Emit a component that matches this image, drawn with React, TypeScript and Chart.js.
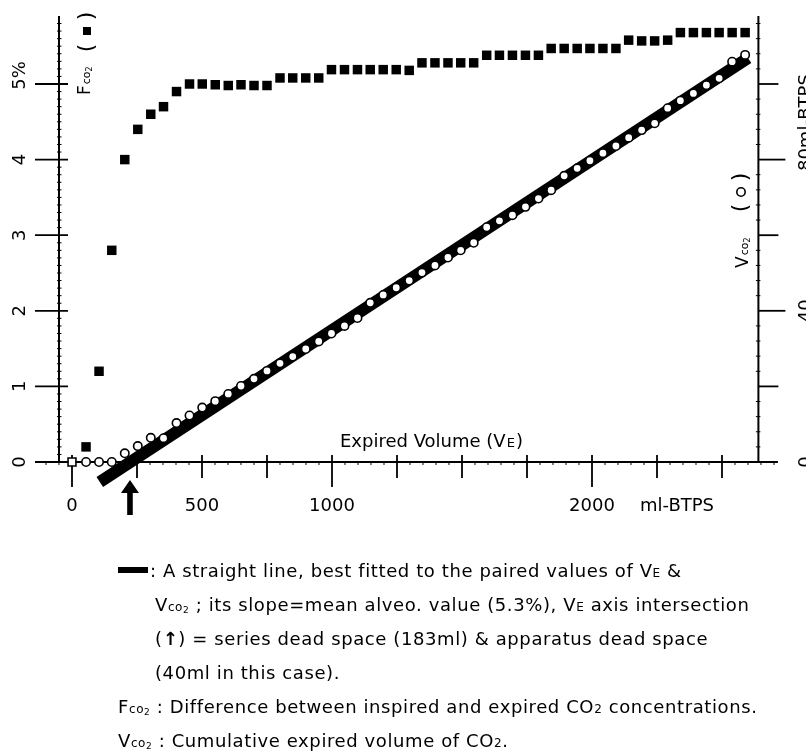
import React, { useEffect, useRef } from "react";
import { Chart, registerables } from "chart.js";

Chart.register(...registerables);

// ---------- data ----------
// Expired volume VE (ml-BTPS) at each sample
const expiredVolume = [
  54, 104, 153, 203, 253, 303, 352, 402, 452, 501, 551, 601, 650, 700, 750, 800,
  849, 899, 949, 998, 1048, 1098, 1147, 1197, 1247, 1297, 1346, 1396, 1446, 1495,
  1545, 1595, 1644, 1694, 1744, 1794, 1843, 1893, 1943, 1992, 2042, 2092, 2141,
  2191, 2241, 2291, 2340, 2390, 2440, 2489, 2539, 2589,
];
// FCO2 (%) - filled squares, left axis
const fco2 = [
  0.2, 1.2, 2.8, 4.0, 4.4, 4.6, 4.7, 4.9, 5.0, 5.0, 4.99, 4.98, 4.99, 4.98, 4.98,
  5.08, 5.08, 5.08, 5.08, 5.19, 5.19, 5.19, 5.19, 5.19, 5.19, 5.18, 5.28, 5.28,
  5.28, 5.28, 5.28, 5.38, 5.38, 5.38, 5.38, 5.38, 5.47, 5.47, 5.47, 5.47, 5.47,
  5.47, 5.58, 5.57, 5.57, 5.58, 5.68, 5.68, 5.68, 5.68, 5.68, 5.68,
];
// VCO2 (ml) - open circles, right axis
const vco2 = [
  0, 0, 0, 2.3, 4.2, 6.4, 6.3, 10.3, 12.3, 14.4, 16.1, 18.0, 20.1, 22.0, 24.1,
  26.1, 27.9, 29.9, 31.9, 34.0, 36.0, 38.1, 42.1, 44.2, 46.1, 48.0, 50.1, 52.0,
  54.1, 56.0, 58.0, 62.1, 63.8, 65.3, 67.5, 69.7, 71.9, 75.7, 77.7, 79.7, 81.7,
  83.6, 85.8, 87.8, 89.6, 93.6, 95.6, 97.5, 99.7, 101.5, 105.9, 107.7,
];
// starting point (open square)
const startVolume = [0];
const startFco2 = [0];
// best-fit straight line
const fitVolume = [107, 2600];
const fitVco2 = [-5.3, 106.9];
// VE axis intersection (series + apparatus dead space)
const interceptVolume = 223;

// tick labels
const xTickValues = [0, 500, 1000, 2000];
const xTickLabels = ["0", "500", "1000", "2000"];
const xMajorTicks = [0, 250, 500, 750, 1000, 1250, 1500, 1750, 2000, 2250, 2500];
const xLongTicks = [0, 1000, 2000];
const leftTickValues = [0, 1, 2, 3, 4, 5];
const leftTickLabels = ["0", "1", "2", "3", "4", "5%"];
const rightTickValues = [20, 40, 60, 80, 100];
const rightLabelValues = [0, 40, 80];
const rightLabelTexts = ["0", "40", "80ml-BTPS"];

// ---------- layout / calibration ----------
const FONT = '"DejaVu Sans", "Liberation Sans", sans-serif';
const INK = "#000";
const X_MIN = -276.92;
const X_MAX = 2823.08;
const YL_MIN = -3.836;
const YL_MAX = 6.1111;
const YR_FACTOR = 20;
const LEFT_AXIS_AT = -50;
const RIGHT_AXIS_AT = 2640;
const AXIS_TOP = 5.9;
const X_AXIS_FROM = -142;
const X_AXIS_TO = 2715;

function seg(ctx: CanvasRenderingContext2D, x1: number, y1: number, x2: number, y2: number) {
  ctx.beginPath();
  ctx.moveTo(x1, y1);
  ctx.lineTo(x2, y2);
  ctx.stroke();
}

const paperPlugin = {
  id: "paperAxes",
  beforeDatasetsDraw(chart: any) {
    const ctx: CanvasRenderingContext2D = chart.ctx;
    const sx = chart.scales.x;
    const sl = chart.scales.yL;
    const sr = chart.scales.yR;
    const y0 = sl.getPixelForValue(0);
    const xl = sx.getPixelForValue(LEFT_AXIS_AT);
    const xr = sx.getPixelForValue(RIGHT_AXIS_AT);
    const top = sl.getPixelForValue(AXIS_TOP);
    ctx.save();
    ctx.strokeStyle = INK;
    ctx.lineCap = "butt";
    ctx.lineWidth = 2;
    seg(ctx, sx.getPixelForValue(X_AXIS_FROM), y0, sx.getPixelForValue(X_AXIS_TO), y0);
    seg(ctx, xl, y0 + 1, xl, top);
    seg(ctx, xr, y0 + 1, xr, top);

    // x ticks
    ctx.lineWidth = 1.8;
    for (const v of xMajorTicks) {
      const px = sx.getPixelForValue(v);
      const long = xLongTicks.includes(v);
      seg(ctx, px, y0 - 7, px, y0 + (long ? 25 : 16));
    }
    ctx.lineWidth = 1;
    for (let v = -100; v <= 2700; v += 50) {
      if (v % 250 === 0) continue;
      const px = sx.getPixelForValue(v);
      seg(ctx, px, y0, px, y0 + 3);
    }
    // left ticks
    ctx.lineWidth = 1.8;
    for (const v of leftTickValues) {
      const py = sl.getPixelForValue(v);
      seg(ctx, xl - 24, py, xl + 9, py);
    }
    ctx.lineWidth = 1;
    for (let i = 1; i < 59; i++) {
      if (i % 10 === 0) continue;
      const py = sl.getPixelForValue(i / 10);
      seg(ctx, xl - 2, py, xl + 2.5, py);
    }
    // right ticks
    ctx.lineWidth = 1.8;
    for (const v of rightTickValues) {
      const py = sr.getPixelForValue(v);
      seg(ctx, xr, py, xr + (v === 40 || v === 80 ? 27 : 20), py);
    }
    ctx.lineWidth = 1;
    for (let v = 4; v < 118; v += 4) {
      if (v % 20 === 0) continue;
      const py = sr.getPixelForValue(v);
      seg(ctx, xr - 2.5, py, xr + 2, py);
    }
    ctx.restore();
  },
  afterDatasetsDraw(chart: any) {
    const ctx: CanvasRenderingContext2D = chart.ctx;
    const sx = chart.scales.x;
    const sl = chart.scales.yL;
    const sr = chart.scales.yR;
    const y0 = sl.getPixelForValue(0);
    ctx.save();
    ctx.fillStyle = INK;
    ctx.strokeStyle = INK;

    // x tick labels
    ctx.font = `18px ${FONT}`;
    ctx.textAlign = "center";
    ctx.textBaseline = "middle";
    xTickValues.forEach((v, i) => ctx.fillText(xTickLabels[i], sx.getPixelForValue(v), y0 + 44));
    ctx.textAlign = "left";
    ctx.fillText("ml-BTPS", sx.getPixelForValue(2000) + 48, y0 + 44);

    // rotated y labels
    const rotLabel = (cx: number, py: number, label: string, num: string) => {
      const w = ctx.measureText(num).width;
      ctx.save();
      ctx.translate(cx, py + w / 2);
      ctx.rotate(-Math.PI / 2);
      ctx.textAlign = "left";
      ctx.textBaseline = "middle";
      ctx.fillText(label, 0, 0);
      ctx.restore();
    };
    leftTickValues.forEach((v, i) => rotLabel(20, sl.getPixelForValue(v), leftTickLabels[i], String(v)));
    rightLabelValues.forEach((v, i) => rotLabel(806, sr.getPixelForValue(v), rightLabelTexts[i], String(v)));

    // x axis title
    ctx.textAlign = "left";
    ctx.textBaseline = "alphabetic";
    let cur = 340;
    const ty = y0 - 15;
    ctx.font = `18px ${FONT}`;
    ctx.fillText("Expired Volume (V", cur, ty);
    cur += ctx.measureText("Expired Volume (V").width;
    ctx.font = `13px ${FONT}`;
    ctx.fillText("E", cur + 1, ty);
    cur += ctx.measureText("E").width + 2;
    ctx.font = `18px ${FONT}`;
    ctx.fillText(")", cur, ty);

    // vertical titles
    const vTitle = (cx: number, startY: number, letter: string, symbol: "square" | "circle", p1: number, sym: number, p2: number, off: number) => {
      ctx.save();
      ctx.translate(cx, startY);
      ctx.rotate(-Math.PI / 2);
      ctx.textAlign = "left";
      ctx.textBaseline = "alphabetic";
      let c = 0;
      ctx.font = `17px ${FONT}`;
      ctx.fillText(letter, c, 6);
      c += ctx.measureText(letter).width + 1;
      ctx.font = `11px ${FONT}`;
      ctx.fillText("co", c, 6);
      c += ctx.measureText("co").width;
      ctx.font = `8px ${FONT}`;
      ctx.fillText("2", c, 8);
      ctx.font = `22px ${FONT}`;
      ctx.textAlign = "center";
      ctx.textBaseline = "middle";
      ctx.fillText("(", p1, off);
      ctx.fillText(")", p2, off);
      if (symbol === "square") {
        ctx.fillRect(sym - 4, off - 4, 8, 8);
      } else {
        ctx.lineWidth = 1.6;
        ctx.beginPath();
        ctx.arc(sym, off, 4.2, 0, Math.PI * 2);
        ctx.stroke();
      }
      ctx.restore();
    };
    vTitle(84, 95, "F", "square", 47, 64, 79, 3);
    vTitle(742, 268, "V", "circle", 60, 76, 91, -1);

    // arrow at the VE intersection
    const ax = sx.getPixelForValue(interceptVolume);
    ctx.beginPath();
    ctx.moveTo(ax, y0 + 18);
    ctx.lineTo(ax + 9, y0 + 31);
    ctx.lineTo(ax + 2.8, y0 + 31);
    ctx.lineTo(ax + 2.8, y0 + 53);
    ctx.lineTo(ax - 2.8, y0 + 53);
    ctx.lineTo(ax - 2.8, y0 + 31);
    ctx.lineTo(ax - 9, y0 + 31);
    ctx.closePath();
    ctx.fill();
    ctx.restore();
  },
};

const small = { fontSize: 12 } as const;
const sub2 = { fontSize: 9, verticalAlign: "-2px" } as const;
const Vco2 = () => (
  <span>V<span style={small}>co</span><span style={sub2}>2</span></span>
);
const Fco2 = () => (
  <span>F<span style={small}>co</span><span style={sub2}>2</span></span>
);
const VE = () => (
  <span>V<span style={small}>E</span></span>
);

const noteLine = (left: number, center: number): React.CSSProperties => ({
  position: "absolute",
  left,
  top: center - 11,
  fontSize: 18,
  lineHeight: "22px",
  letterSpacing: "0.6px",
  whiteSpace: "nowrap",
  color: INK,
  fontFamily: FONT,
});

export default function App() {
  const canvasRef = useRef<HTMLCanvasElement>(null);

  useEffect(() => {
    const canvas = canvasRef.current;
    if (!canvas) return;
    const chart = new Chart(canvas, {
      type: "scatter",
      data: {
        datasets: [
          {
            label: "VCO2",
            data: expiredVolume.map((x, i) => ({ x, y: vco2[i] })),
            yAxisID: "yR",
            pointStyle: "circle",
            pointRadius: 4.2,
            pointBackgroundColor: "#fff",
            pointBorderColor: INK,
            pointBorderWidth: 1.6,
            order: 0,
          },
          {
            label: "FCO2",
            data: expiredVolume.map((x, i) => ({ x, y: fco2[i] })),
            yAxisID: "yL",
            pointStyle: "rect",
            pointRadius: 6.7,
            pointBackgroundColor: INK,
            pointBorderWidth: 0,
            order: 1,
          },
          {
            label: "start",
            data: startVolume.map((x, i) => ({ x, y: startFco2[i] })),
            yAxisID: "yL",
            pointStyle: "rect",
            pointRadius: 5.6,
            pointBackgroundColor: "#fff",
            pointBorderColor: INK,
            pointBorderWidth: 1.6,
            order: 1,
          },
          {
            label: "fit",
            data: fitVolume.map((x, i) => ({ x, y: fitVco2[i] })),
            yAxisID: "yR",
            showLine: true,
            borderColor: INK,
            borderWidth: 12,
            borderCapStyle: "butt",
            pointRadius: 0,
            order: 2,
          } as any,
        ],
      },
      options: {
        animation: false,
        responsive: false,
        layout: { padding: 0, autoPadding: false } as any,
        plugins: { legend: { display: false }, tooltip: { enabled: false } },
        events: [],
        scales: {
          x: { type: "linear", display: false, min: X_MIN, max: X_MAX, bounds: "data" } as any,
          yL: { type: "linear", display: false, min: YL_MIN, max: YL_MAX, position: "left" } as any,
          yR: {
            type: "linear",
            display: false,
            min: YL_MIN * YR_FACTOR,
            max: YL_MAX * YR_FACTOR,
            position: "right",
          } as any,
        },
      },
      plugins: [paperPlugin],
    });
    return () => chart.destroy();
  }, []);

  return (
    <div style={{ position: "absolute", left: 0, top: 0, width: 806, height: 752, background: "#fff", overflow: "hidden" }}>
      <canvas ref={canvasRef} width={806} height={752} style={{ position: "absolute", left: 0, top: 0 }} />
      <div style={{ position: "absolute", left: 118, top: 567, width: 30, height: 6, background: INK }} />
      <div style={noteLine(150, 571)}>: A straight line, best fitted to the paired values of <VE /> &amp;</div>
      <div style={noteLine(155, 605)}><Vco2 /> ; its slope=mean alveo. value (5.3%), <VE /> axis intersection</div>
      <div style={noteLine(155, 639)}>(<b>↑</b>) = series dead space (183ml) &amp; apparatus dead space</div>
      <div style={noteLine(155, 673)}>(40ml in this case).</div>
      <div style={noteLine(118, 707)}><Fco2 /> : Difference between inspired and expired CO<span style={small}>2</span> concentrations.</div>
      <div style={noteLine(118, 741)}><Vco2 /> : Cumulative expired volume of CO<span style={small}>2</span>.</div>
    </div>
  );
}
